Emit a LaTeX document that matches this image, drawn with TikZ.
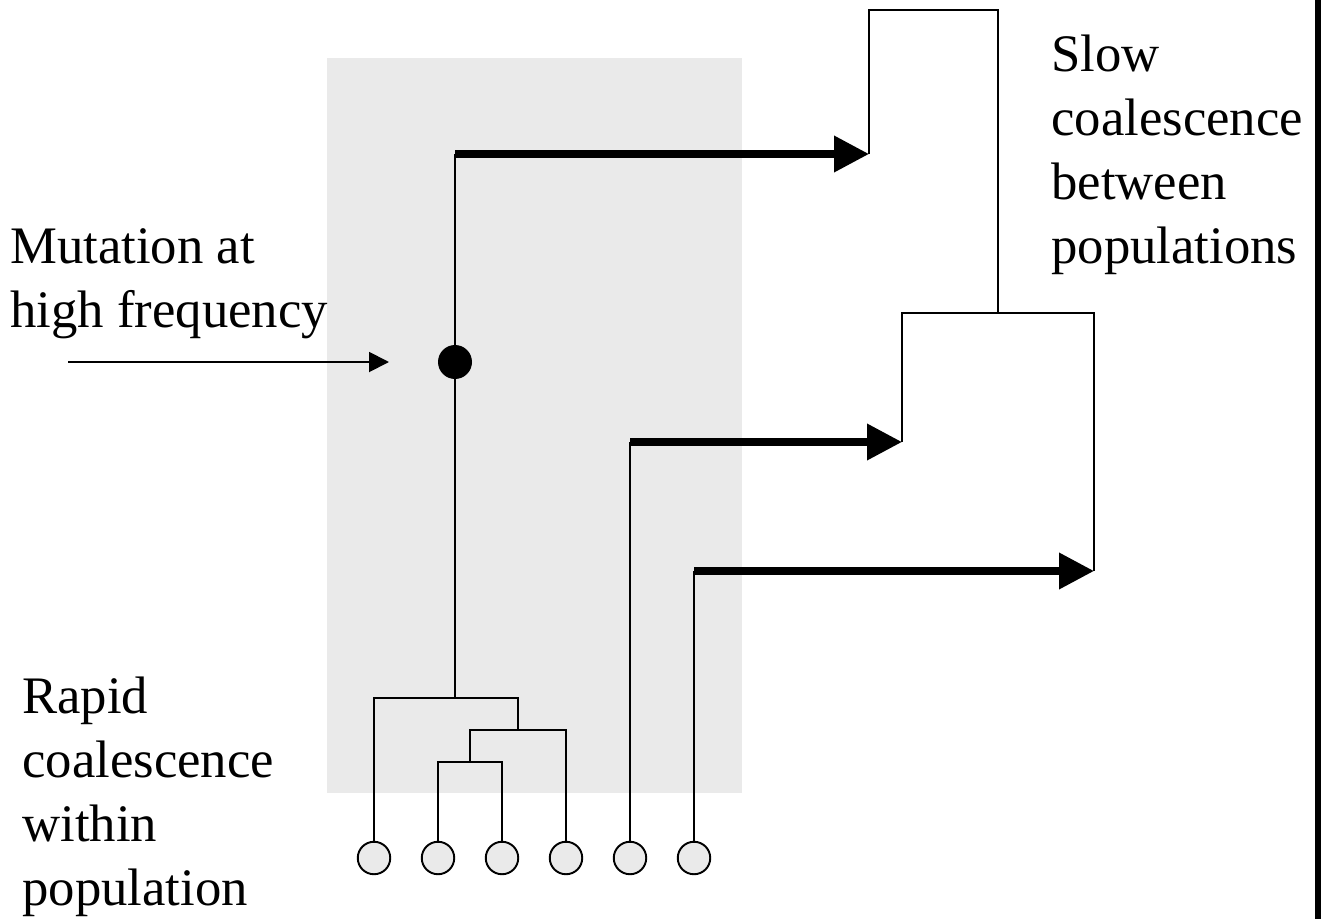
\documentclass[tikz,border=0pt]{standalone}
\usepackage{fontspec}
\setmainfont{Liberation Serif}
\usepackage{tikz}
\usetikzlibrary{arrows.meta}
\definecolor{popgray}{RGB}{234,234,234}
\tikzset{
    branch/.style = {line width=1.1pt, black},
    lineage/.style = {line width=4pt, -{Triangle[length=0.7cm,width=0.7cm]}},
    leaf/.style = {circle, draw, line width=1.1pt, fill=popgray, minimum size=0.65cm, inner sep=0pt},
    label/.style = {anchor=base west, align=left, inner sep=0pt, font=\fontsize{30}{36.4}\selectfont}
}

\begin{document}
\begin{tikzpicture}[x=0.02cm, y=-0.02cm]
            \useasboundingbox (0,0) rectangle (1322,919);
            \fill[popgray] (327,58) rectangle (742,793);
            \node[leaf] (s1) at (374,858) {};
            \node[leaf] (s2) at (438,858) {};
            \node[leaf] (s3) at (502,858) {};
            \node[leaf] (s4) at (566,858) {};
            \node[leaf] (s5) at (630,858) {};
            \node[leaf] (s6) at (694,858) {};
            \coordinate (n23) at (470,762);
            \coordinate (n234) at (518,730);
            \coordinate (n1234) at (455,698);
            \node[circle, fill=black, minimum size=0.68cm, inner sep=0pt] (mut) at (455,362) {};
            \coordinate (a1) at (455,154);
            \coordinate (b1) at (630,442);
            \coordinate (c1) at (694,571);
            \coordinate (p1) at (869,154);
            \coordinate (p2) at (902,442);
            \coordinate (p3) at (1094,571);
            \coordinate (q) at (998,313);
            \coordinate (root) at (933.5,10);
            \coordinate (mfrom) at (68,362);
            \coordinate (mto) at (389,362);
            \draw[branch] (s2) |- (n23) -| (s3);
            \draw[branch] (n23) |- (n234) -| (s4);
            \draw[branch] (s1) |- (n1234) -| (n234);
            \draw[branch] (n1234) -- (mut) -- (a1);
            \draw[branch] (s5) -- (b1);
            \draw[branch] (s6) -- (c1);
            \draw[branch] (p1) |- (root) -| (q);
            \draw[branch] (p2) |- (q) -| (p3);
            \draw[lineage] (a1) -- (p1);
            \draw[lineage] (b1) -- (p2);
            \draw[lineage] (c1) -- (p3);
            \draw[branch, -{Triangle[length=0.4cm,width=0.4cm]}] (mfrom) -- (mto);
            \draw[line width=0.12cm] (1318,0) -- (1318,919);
            \node[label] (mutlabel) at (10,327) {Mutation at\\high frequency};
            \node[label] (slowlabel) at (1051,263) {Slow\\coalescence\\between\\populations};
            \node[label] (rapidlabel) at (22,905) {Rapid\\coalescence\\within\\population};
\end{tikzpicture}
\end{document}
